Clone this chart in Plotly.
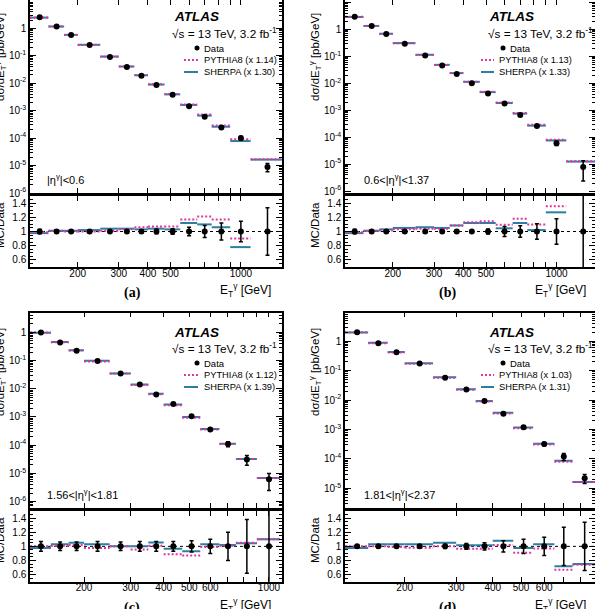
import math
import plotly.graph_objects as go

W, H = 595, 609

# ---------------- data ----------------
edges_a = [125, 150, 175, 200, 250, 300, 350, 400, 470, 550, 650, 750, 900, 1100, 1500]
edges_b = [125, 150, 175, 200, 250, 300, 350, 400, 470, 550, 650, 750, 900, 1100, 1500]
edges_c = [125, 150, 175, 200, 250, 300, 350, 400, 470, 550, 650, 750, 900, 1100]
edges_d = [125, 150, 175, 200, 250, 300, 350, 400, 470, 550, 650, 750, 900]

data_a = [2.5, 1.15, 0.57, 0.246, 0.09, 0.039, 0.0188, 0.0086, 0.0038, 0.00144, 0.0006, 0.000245, 1.0e-4, 8.9e-6]
data_b = [2.95, 1.33, 0.67, 0.295, 0.108, 0.046, 0.022, 0.0101, 0.0042, 0.00178, 0.00067, 0.000263, 5.96e-5, 7.9e-6]
data_c = [1.0, 0.44, 0.224, 0.096, 0.035, 0.0143, 0.0063, 0.0029, 0.00107, 0.00036, 0.000109, 3.1e-5, 6.2e-6]
data_d = [2.02, 0.855, 0.42, 0.174, 0.057, 0.023, 0.0092, 0.0034, 0.0012, 0.00032, 0.00012, 2.2e-5]

relerr_a = [0.03, 0.02, 0.02, 0.02, 0.02, 0.02, 0.025, 0.03, 0.04, 0.06, 0.085, 0.12, 0.145, 0.335]
relerr_b = [0.03, 0.02, 0.02, 0.02, 0.02, 0.02, 0.02, 0.025, 0.035, 0.07, 0.08, 0.11, 0.18, 0.7]
relerr_c = [0.07, 0.06, 0.06, 0.07, 0.06, 0.07, 0.07, 0.07, 0.08, 0.1, 0.2, 0.38, 0.6]
relerr_d = [0.02, 0.02, 0.02, 0.02, 0.03, 0.04, 0.05, 0.08, 0.1, 0.13, 0.27, 0.34]

sherpa_ratio_a = [0.977, 1.01, 1.01, 1.02, 1.04, 1.04, 1.03, 1.04, 1.03, 1.12, 1.10, 1.06, 0.78, 1.85]
pythia_ratio_a = [0.99, 1.01, 1.0, 1.0, 1.01, 1.03, 1.06, 1.07, 1.07, 1.17, 1.21, 1.17, 0.90, 1.9]
sherpa_ratio_b = [0.977, 1.01, 1.03, 1.05, 1.06, 1.05, 1.085, 1.12, 1.12, 1.045, 1.12, 1.02, 1.27, 1.58]
pythia_ratio_b = [0.99, 1.01, 1.015, 1.03, 1.04, 1.04, 1.085, 1.13, 1.145, 1.095, 1.18, 1.10, 1.355, 1.62]
sherpa_ratio_c = [0.977, 1.03, 1.05, 1.03, 1.0, 1.0, 1.055, 0.965, 0.93, 1.03, 1.02, 1.045, 1.10]
pythia_ratio_c = [1.0, 1.01, 1.02, 0.977, 1.0, 0.955, 1.01, 0.89, 0.87, 0.99, 1.01, 1.05, 1.10]
sherpa_ratio_d = [0.977, 1.03, 1.03, 1.03, 1.05, 1.015, 1.015, 1.08, 0.977, 1.03, 0.72, 0.75]
pythia_ratio_d = [1.0, 1.0, 0.99, 0.98, 1.0, 0.965, 0.965, 1.02, 0.91, 0.97, 0.67, 0.74]

pythia_scale = ["1.14", "1.13", "1.12", "1.03"]
sherpa_scale = ["1.30", "1.33", "1.39", "1.31"]
eta_labels = ["|η<sup>γ</sup>|&lt;0.6", "0.6&lt;|η<sup>γ</sup>|&lt;1.37",
              "1.56&lt;|η<sup>γ</sup>|&lt;1.81", "1.81&lt;|η<sup>γ</sup>|&lt;2.37"]
panel_tags = ["(a)", "(b)", "(c)", "(d)"]

xtick_vals_ab = [200, 300, 400, 500, 1000]
xtick_text_ab = ["200", "300", "400", "500", "1000"]
xminor_ab = [600, 700, 800, 900]
xtick_vals_c = [200, 300, 400, 500, 600, 1000]
xtick_text_c = ["200", "300", "400", "500", "600", "1000"]
xminor_c = [700, 800, 900]
xtick_vals_d = [200, 300, 400, 500, 600]
xtick_text_d = ["200", "300", "400", "500", "600"]
xminor_d = [700, 800]
ytick_vals = [1e-6, 1e-5, 1e-4, 1e-3, 1e-2, 1e-1, 1, 10]
ytick_text = ["10<sup>-6</sup>", "10<sup>-5</sup>", "10<sup>-4</sup>", "10<sup>-3</sup>",
              "10<sup>-2</sup>", "10<sup>-1</sup>", "1", "10"]
ymin_vals = [m * d for d in [1e-7, 1e-6, 1e-5, 1e-4, 1e-3, 1e-2, 1e-1, 1, 10] for m in range(2, 10)]
rtick_vals = [0.6, 0.8, 1.0, 1.2, 1.4]
rtick_text = ["0.6", "0.8", "1", "1.2", "1.4"]

# ---------------- style / geometry ----------------
FONT = "Liberation Sans, Arial, sans-serif"
BLUE = "#2c7ea3"
PINK = "#e0369e"

panels = [
    dict(edges=edges_a, data=data_a, err=relerr_a, sh=sherpa_ratio_a, py=pythia_ratio_a,
         x0=30, x1=282, main=(0, 193), ratio=(196, 267), xr=(125, 1500), yr=(-6.0, 1.03),
         xv=xtick_vals_ab, xt=xtick_text_ab, xm=xminor_ab),
    dict(edges=edges_b, data=data_b, err=relerr_b, sh=sherpa_ratio_b, py=pythia_ratio_b,
         x0=345, x1=595, main=(0, 193), ratio=(196, 267), xr=(125, 1460), yr=(-6.07, 1.09),
         xv=xtick_vals_ab, xt=xtick_text_ab, xm=xminor_ab),
    dict(edges=edges_c, data=data_c, err=relerr_c, sh=sherpa_ratio_c, py=pythia_ratio_c,
         x0=30, x1=282, main=(312.7, 508), ratio=(511, 581.7), xr=(125, 1120), yr=(-6.23, 0.7),
         xv=xtick_vals_c, xt=xtick_text_c, xm=xminor_c),
    dict(edges=edges_d, data=data_d, err=relerr_d, sh=sherpa_ratio_d, py=pythia_ratio_d,
         x0=345, x1=595, main=(312.7, 508), ratio=(511, 581.7), xr=(125, 895), yr=(-5.67, 0.97),
         xv=xtick_vals_d, xt=xtick_text_d, xm=xminor_d),
]


def px(x):
    return x / W


def py(y):
    return 1 - y / H


def segs(edges, vals):
    xs, ys = [], []
    for lo, hi, v in zip(edges[:-1], edges[1:], vals):
        xs += [lo, hi, None]
        ys += [v, v, None]
    return xs, ys


fig = go.Figure()
layout = dict(width=W, height=H, margin=dict(l=0, r=0, t=0, b=0), template="none",
              paper_bgcolor="white", plot_bgcolor="white", showlegend=False,
              font=dict(family=FONT, size=10, color="black"))
shapes, annotations = [], []

axis_common = dict(showline=True, linecolor="black", linewidth=1.5, mirror="allticks",
                   ticks="inside", tickcolor="black", tickwidth=1, showgrid=False,
                   zeroline=False, automargin=False, tickfont=dict(family=FONT, size=10))

for i, p in enumerate(panels):
    km, kr = 2 * i + 1, 2 * i + 2
    sm = "" if km == 1 else str(km)
    sr = str(kr)
    centers = [(lo + hi) / 2 for lo, hi in zip(p["edges"][:-1], p["edges"][1:])]
    mc_sh = [d * r for d, r in zip(p["data"], p["sh"])]
    mc_py = [d * r for d, r in zip(p["data"], p["py"])]
    abs_err = [d * e for d, e in zip(p["data"], p["err"])]
    xrange_log = [math.log10(p["xr"][0]), math.log10(p["xr"][1])]
    xminor = dict(tickvals=p["xm"], ticks="inside", ticklen=5, tickcolor="black", showgrid=False)

    # axes
    layout["xaxis" + sm] = dict(axis_common, type="log", range=xrange_log,
                                domain=[px(p["x0"]), px(p["x1"])], anchor="y" + sm,
                                tickvals=p["xv"], ticktext=p["xt"], ticklen=5,
                                showticklabels=False, minor=xminor)
    layout["yaxis" + sm] = dict(axis_common, type="log", range=list(p["yr"]),
                                domain=[py(p["main"][1]), py(p["main"][0])], anchor="x" + sm,
                                tickvals=ytick_vals, ticktext=ytick_text, ticklen=6,
                                minor=dict(tickvals=ymin_vals, ticks="inside", ticklen=3,
                                           tickcolor="black", showgrid=False))
    layout["xaxis" + sr] = dict(axis_common, type="log", range=xrange_log,
                                domain=[px(p["x0"]), px(p["x1"])], anchor="y" + sr,
                                tickvals=p["xv"], ticktext=p["xt"], ticklen=5,
                                ticklabelstandoff=-4, minor=xminor)
    layout["yaxis" + sr] = dict(axis_common, range=[0.5, 1.5],
                                domain=[py(p["ratio"][1]), py(p["ratio"][0])], anchor="x" + sr,
                                tickvals=rtick_vals, ticktext=rtick_text, ticklen=6,
                                minor=dict(dtick=0.05, ticks="inside", ticklen=3,
                                           tickcolor="black", showgrid=False))

    # main panel traces
    xs, ys = segs(p["edges"], mc_sh)
    fig.add_trace(go.Scatter(x=xs, y=ys, mode="lines", line=dict(color=BLUE, width=2),
                             xaxis="x" + sm, yaxis="y" + sm))
    xs, ys = segs(p["edges"], mc_py)
    fig.add_trace(go.Scatter(x=xs, y=ys, mode="lines",
                             line=dict(color=PINK, width=2, dash="2px,2px"),
                             xaxis="x" + sm, yaxis="y" + sm))
    fig.add_trace(go.Scatter(x=centers, y=p["data"], mode="markers",
                             marker=dict(color="black", size=6),
                             error_y=dict(type="data", array=abs_err, color="black",
                                          thickness=1.5, width=2),
                             xaxis="x" + sm, yaxis="y" + sm))

    # ratio panel traces
    shapes.append(dict(type="line", xref="x" + sr + " domain", x0=0, x1=1, yref="y" + sr,
                       y0=1, y1=1, layer="below", line=dict(color="black", width=1, dash="dot")))
    xs, ys = segs(p["edges"], p["sh"])
    fig.add_trace(go.Scatter(x=xs, y=ys, mode="lines", line=dict(color=BLUE, width=2),
                             xaxis="x" + sr, yaxis="y" + sr))
    xs, ys = segs(p["edges"], p["py"])
    fig.add_trace(go.Scatter(x=xs, y=ys, mode="lines",
                             line=dict(color=PINK, width=2, dash="2px,2px"),
                             xaxis="x" + sr, yaxis="y" + sr))
    fig.add_trace(go.Scatter(x=centers, y=[1.0] * len(centers), mode="markers",
                             marker=dict(color="black", size=6),
                             error_y=dict(type="data", array=p["err"], color="black",
                                          thickness=1.5, width=2),
                             xaxis="x" + sr, yaxis="y" + sr))

    # ---- decorations ----
    dx = 0 if i % 2 == 0 else 315
    left_col = i % 2 == 0
    if left_col:
        lx = dict(atlas=172, rs=170, dot=197, dtext=202, l0=184, l1=198, ltext=202)
    else:
        lx = dict(atlas=487, rs=486, dot=503, dtext=508, l0=481, l1=494, ltext=497)
    yoff = 0 if p["main"][0] == 0 else 315
    annotations.append(dict(text="<b><i>ATLAS</i></b>", x=px(lx["atlas"]), y=py(17 + yoff),
                            xref="paper", yref="paper", xanchor="left", yanchor="middle",
                            showarrow=False, font=dict(family=FONT, size=13.5)))
    annotations.append(dict(text="√s = 13 TeV, 3.2 fb<sup>-1</sup>", x=px(lx["rs"]),
                            y=py(33 + yoff), xref="paper", yref="paper", xanchor="left",
                            yanchor="middle", showarrow=False, font=dict(family=FONT, size=11.8)))
    shapes.append(dict(type="circle", xref="paper", yref="paper",
                       x0=px(lx["dot"] - 2.5), x1=px(lx["dot"] + 2.5),
                       y0=py(48 + yoff + 2.5), y1=py(48 + yoff - 2.5),
                       fillcolor="black", line=dict(color="black", width=0)))
    annotations.append(dict(text="Data", x=px(lx["dtext"]), y=py(48 + yoff), xref="paper",
                            yref="paper", xanchor="left", yanchor="middle", showarrow=False,
                            font=dict(family=FONT, size=9.5)))
    shapes.append(dict(type="line", xref="paper", yref="paper", x0=px(lx["l0"]), x1=px(lx["l1"]),
                       y0=py(60 + yoff), y1=py(60 + yoff),
                       line=dict(color=PINK, width=2, dash="2px,2px")))
    annotations.append(dict(text="PYTHIA8 (x " + pythia_scale[i] + ")", x=px(lx["ltext"]),
                            y=py(60 + yoff), xref="paper", yref="paper", xanchor="left",
                            yanchor="middle", showarrow=False, font=dict(family=FONT, size=9.3)))
    shapes.append(dict(type="line", xref="paper", yref="paper", x0=px(lx["l0"]), x1=px(lx["l1"]),
                       y0=py(72 + yoff), y1=py(72 + yoff), line=dict(color=BLUE, width=2)))
    annotations.append(dict(text="SHERPA (x " + sherpa_scale[i] + ")", x=px(lx["ltext"]),
                            y=py(72 + yoff), xref="paper", yref="paper", xanchor="left",
                            yanchor="middle", showarrow=False, font=dict(family=FONT, size=9.3)))
    # eta region label
    annotations.append(dict(text=eta_labels[i], x=px(p["x0"] + (15 if left_col else 17)),
                            y=py(p["main"][1] - 14), xref="paper", yref="paper",
                            xanchor="left", yanchor="middle", showarrow=False,
                            font=dict(family=FONT, size=11)))
    # axis titles
    annotations.append(dict(text="dσ/dE<sub>T</sub><sup>γ</sup> [pb/GeV]", x=px(dx),
                            y=py(57 + yoff), xref="paper", yref="paper", xanchor="center",
                            yanchor="middle", textangle=-90, showarrow=False,
                            font=dict(family=FONT, size=11.5)))
    annotations.append(dict(text="MC/Data", x=px(dx), y=py(225 + yoff), xref="paper",
                            yref="paper", xanchor="center", yanchor="middle", textangle=-90,
                            showarrow=False, font=dict(family=FONT, size=11.5)))
    annotations.append(dict(text="E<sub>T</sub><sup>γ</sup> [GeV]", x=px(273 + dx),
                            y=py(290 + yoff), xref="paper", yref="paper", xanchor="right",
                            yanchor="middle", showarrow=False, font=dict(family=FONT, size=12)))
    annotations.append(dict(text="<b>" + panel_tags[i] + "</b>", x=px(132 + dx),
                            y=py(293 + yoff), xref="paper", yref="paper", xanchor="center",
                            yanchor="middle", showarrow=False,
                            font=dict(family="Liberation Serif, Times New Roman, serif", size=14)))

layout["shapes"] = shapes
layout["annotations"] = annotations
fig.update_layout(**layout)
fig.write_html("out.html")
